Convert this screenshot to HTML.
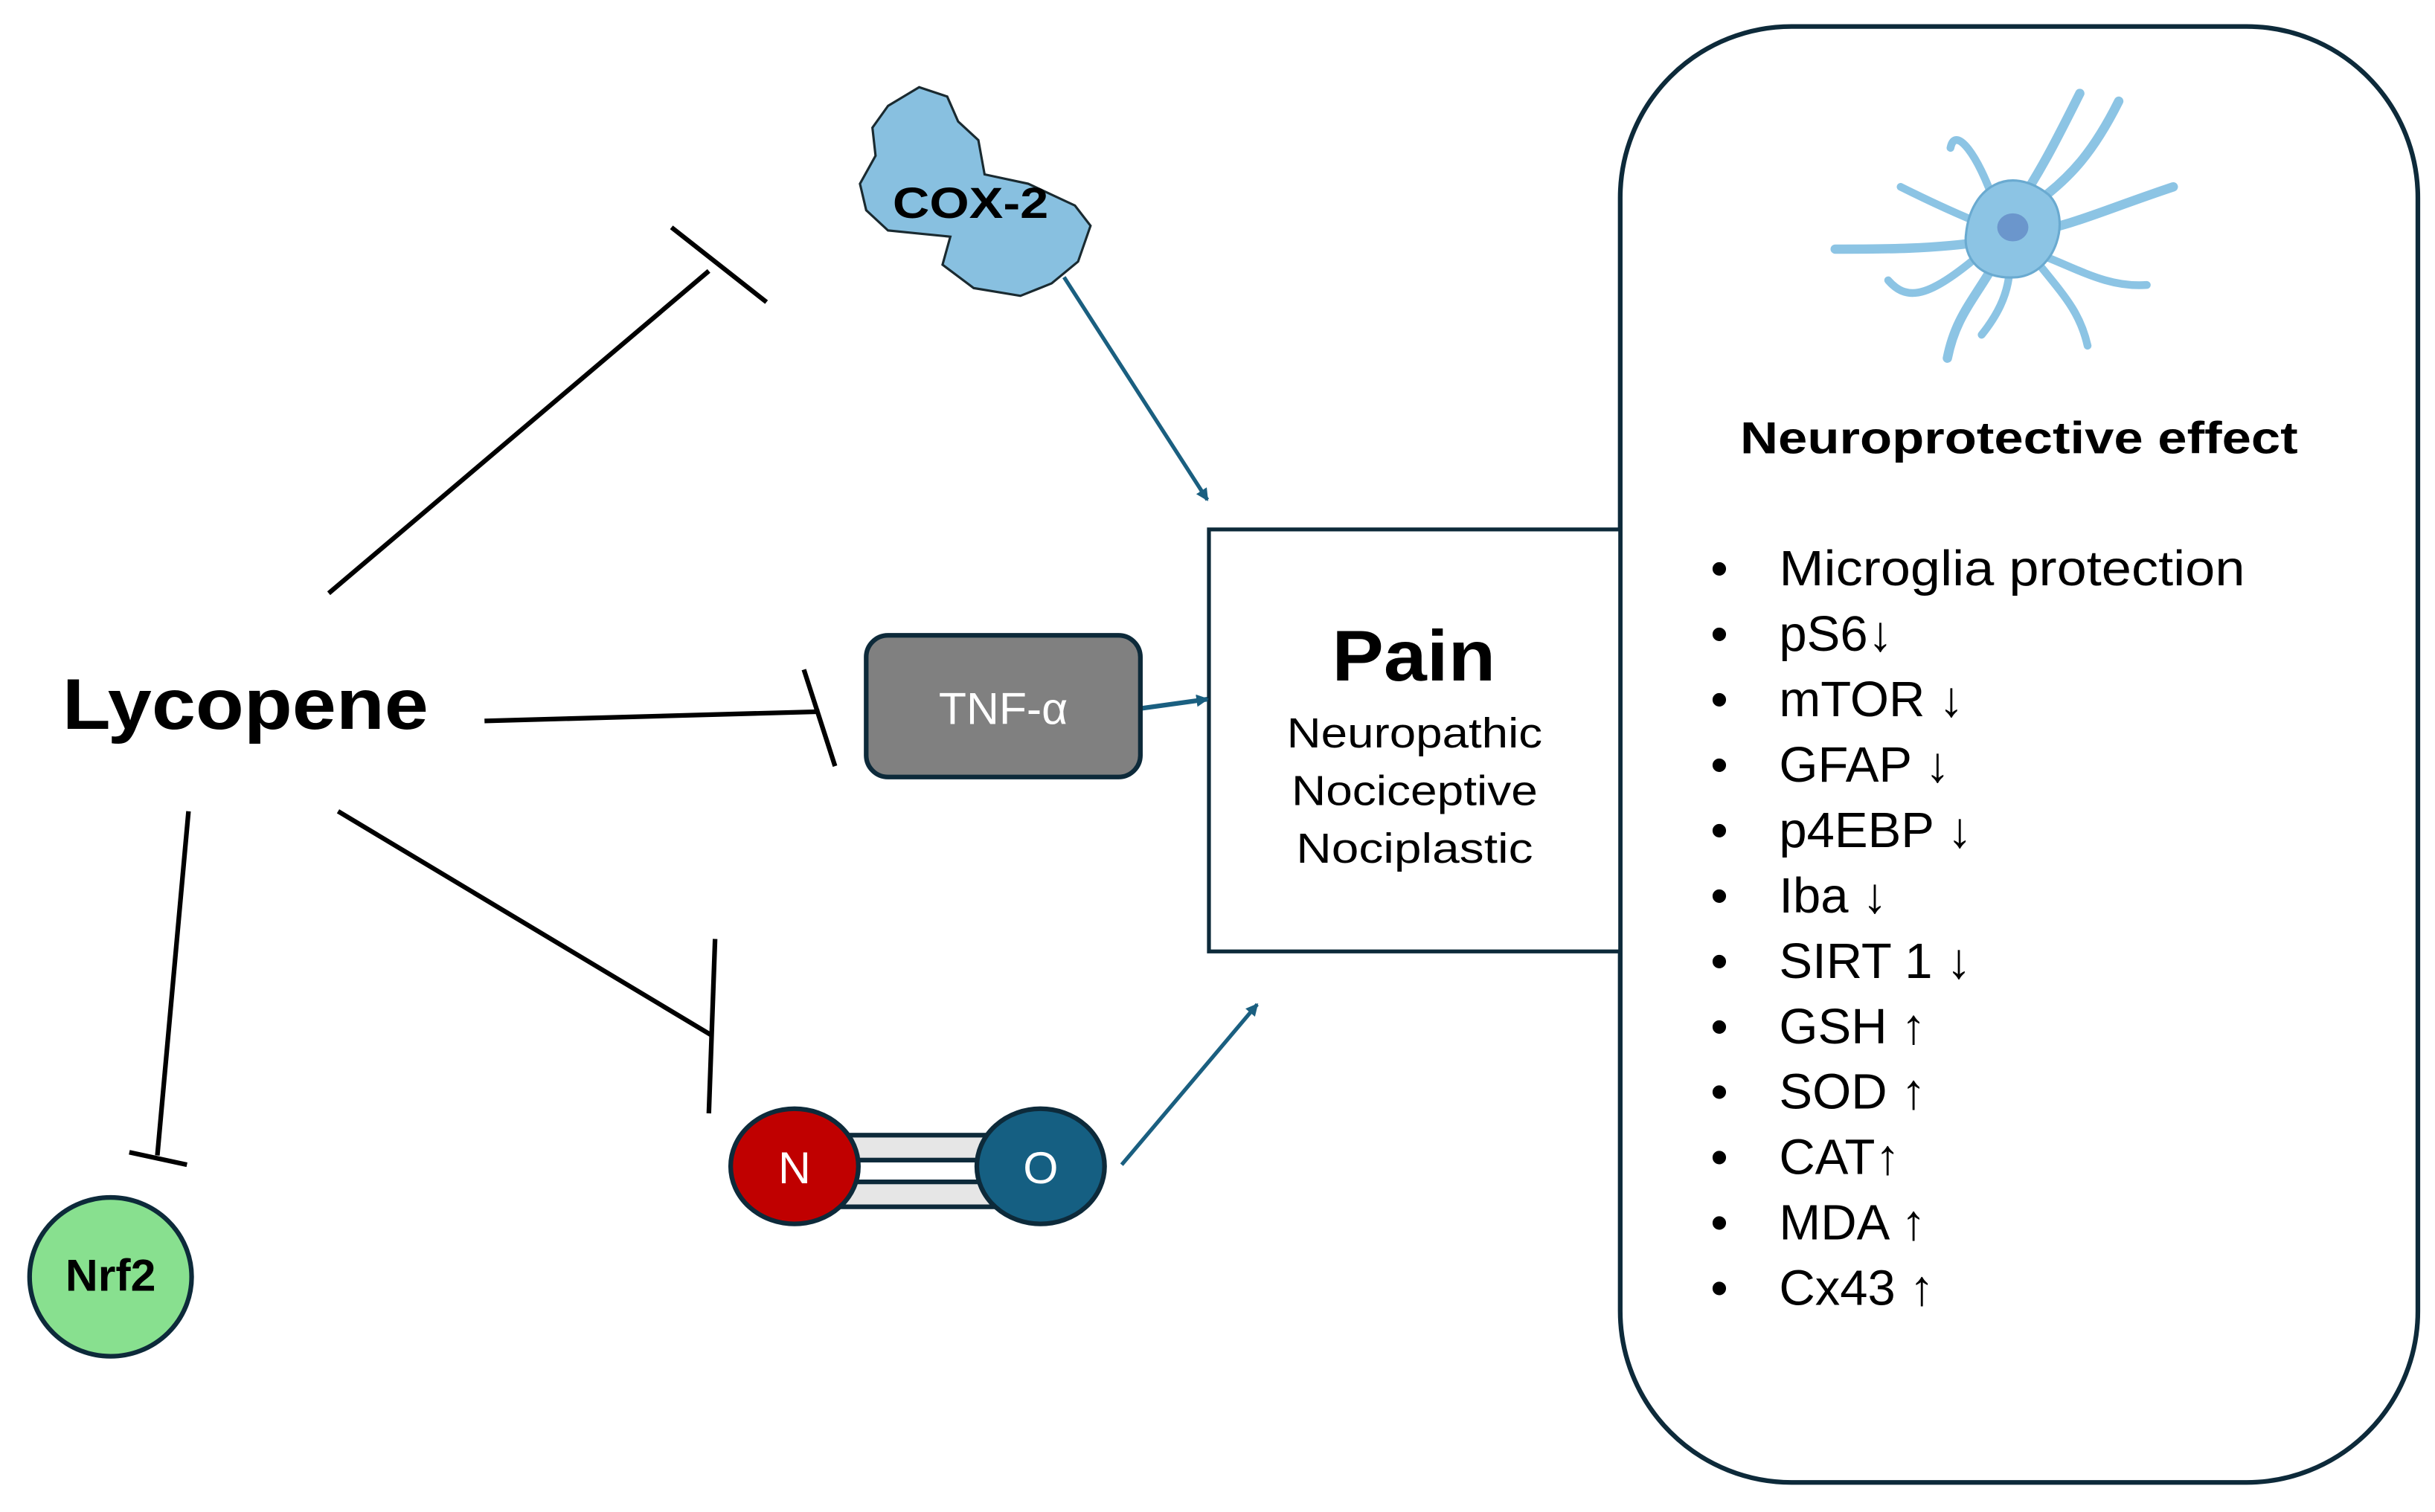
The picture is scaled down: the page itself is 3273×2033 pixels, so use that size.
<!DOCTYPE html>
<html><head><meta charset="utf-8"><style>
html,body{margin:0;padding:0;background:#fff;}
svg{display:block;}
text{font-family:"Liberation Sans",sans-serif;}
</style></head><body>
<svg width="3273" height="2033" viewBox="0 0 1563 971" preserveAspectRatio="none" xmlns="http://www.w3.org/2000/svg">
<defs>
<marker id="ah" markerWidth="8" markerHeight="8" refX="7" refY="4" orient="auto" markerUnits="userSpaceOnUse"><path d="M0,0 L8,4 L0,8 z" fill="#1a5f80"/></marker>
</defs>
<rect width="1563" height="971" fill="#fff"/>
<rect x="1040" y="17" width="512" height="935" rx="110" ry="110" fill="#fff" stroke="#0d2a3a" stroke-width="3"/>
<rect x="776" y="340" width="264" height="271" fill="#fff" stroke="#0d2a3a" stroke-width="2.5"/>
<text x="855" y="437" font-size="46" font-weight="bold" textLength="105" lengthAdjust="spacingAndGlyphs">Pain</text>
<text x="826" y="480" font-size="27" textLength="164" lengthAdjust="spacingAndGlyphs">Neuropathic</text>
<text x="829" y="517" font-size="27" textLength="158" lengthAdjust="spacingAndGlyphs">Nociceptive</text>
<text x="832" y="554" font-size="27" textLength="152" lengthAdjust="spacingAndGlyphs">Nociplastic</text>
<text x="1117" y="291" font-size="29" font-weight="bold" textLength="358" lengthAdjust="spacingAndGlyphs">Neuroprotective effect</text>
<g font-size="32">
<text x="1098" y="376">•</text><text x="1142" y="376" textLength="299" lengthAdjust="spacingAndGlyphs">Microglia protection</text>
<text x="1098" y="418">•</text><text x="1142" y="418">pS6↓</text>
<text x="1098" y="460">•</text><text x="1142" y="460">mTOR ↓</text>
<text x="1098" y="502">•</text><text x="1142" y="502">GFAP ↓</text>
<text x="1098" y="544">•</text><text x="1142" y="544">p4EBP ↓</text>
<text x="1098" y="586">•</text><text x="1142" y="586">Iba ↓</text>
<text x="1098" y="628">•</text><text x="1142" y="628">SIRT 1 ↓</text>
<text x="1098" y="670">•</text><text x="1142" y="670">GSH ↑</text>
<text x="1098" y="712">•</text><text x="1142" y="712">SOD ↑</text>
<text x="1098" y="754">•</text><text x="1142" y="754">CAT↑</text>
<text x="1098" y="796">•</text><text x="1142" y="796">MDA ↑</text>
<text x="1098" y="838">•</text><text x="1142" y="838">Cx43 ↑</text>
</g>
<g stroke="#8cc4e4" stroke-linecap="round" fill="none">
<path d="M1290,140 C1310,110 1320,90 1335,60" stroke-width="6"/>
<path d="M1300,135 C1330,115 1345,95 1360,65" stroke-width="6"/>
<path d="M1280,130 C1270,100 1255,80 1252,95" stroke-width="5"/>
<path d="M1300,150 C1330,145 1350,135 1395,120" stroke-width="6"/>
<path d="M1300,160 C1330,170 1350,185 1378,183" stroke-width="5"/>
<path d="M1275,155 C1240,160 1210,160 1178,160" stroke-width="6"/>
<path d="M1275,145 C1250,135 1230,125 1220,120" stroke-width="5"/>
<path d="M1280,170 C1265,195 1255,205 1250,230" stroke-width="6"/>
<path d="M1290,170 C1290,190 1280,205 1272,215" stroke-width="5"/>
<path d="M1305,165 C1325,190 1335,200 1340,222" stroke-width="5"/>
<path d="M1275,160 C1240,190 1225,195 1212,180" stroke-width="5"/>
</g>
<path d="M1262,150 C1265,120 1290,105 1315,125 C1330,140 1320,175 1295,178 C1270,180 1260,165 1262,150 Z" fill="#8cc4e4" stroke="#6aaad0" stroke-width="1.5"/>
<ellipse cx="1292" cy="146" rx="10" ry="9" fill="#6b96cc"/>
<path d="M570,68 L590,56 L608,62 L615,78 L628,90 L632,112 L660,118 L690,132 L700,145 L692,168 L675,182 L655,190 L625,185 L605,170 L610,152 L590,150 L570,148 L556,135 L552,118 L562,100 L560,82 Z" fill="#88c0e0" stroke="#1a2a30" stroke-width="1.5"/>
<text x="573" y="140" font-size="28" font-weight="bold" textLength="100" lengthAdjust="spacingAndGlyphs">COX-2</text>
<line x1="683" y1="178" x2="775" y2="321" stroke="#1a5f80" stroke-width="2.5" marker-end="url(#ah)"/>
<line x1="732" y1="455" x2="775" y2="449" stroke="#1a5f80" stroke-width="3" marker-end="url(#ah)"/>
<line x1="720" y1="748" x2="807" y2="645" stroke="#1a5f80" stroke-width="2.5" marker-end="url(#ah)"/>
<rect x="556" y="408" width="176" height="91" rx="14" fill="#808080" stroke="#0d2a3a" stroke-width="3"/>
<text x="644" y="465" text-anchor="middle" font-size="29" fill="#fff">TNF-α</text>
<text x="40" y="468" font-size="46" font-weight="bold" textLength="235" lengthAdjust="spacingAndGlyphs">Lycopene</text>
<g stroke="#000" stroke-width="3">
<line x1="211" y1="381" x2="455" y2="174"/><line x1="431" y1="146" x2="492" y2="194"/>
<line x1="311" y1="463" x2="526" y2="457"/><line x1="516" y1="430" x2="536" y2="492"/>
<line x1="217" y1="521" x2="457" y2="665"/><line x1="459" y1="603" x2="455" y2="715"/>
<line x1="121" y1="521" x2="101" y2="742"/><line x1="83" y1="740" x2="120" y2="748"/>
</g>
<rect x="540" y="729" width="100" height="46" fill="#e6e6e6" stroke="#0d2a3a" stroke-width="3"/>
<rect x="540" y="745" width="100" height="14" fill="#fff" stroke="#0d2a3a" stroke-width="3"/>
<ellipse cx="510" cy="749" rx="41" ry="37" fill="#c00000" stroke="#0d2a3a" stroke-width="3"/>
<ellipse cx="668" cy="749" rx="41" ry="37" fill="#155f82" stroke="#0d2a3a" stroke-width="3"/>
<text x="510" y="760" text-anchor="middle" font-size="29" fill="#fff">N</text>
<text x="668" y="760" text-anchor="middle" font-size="29" fill="#fff">O</text>
<ellipse cx="71" cy="820" rx="52" ry="51" fill="#88e08f" stroke="#0d2a3a" stroke-width="3"/>
<text x="71" y="829" text-anchor="middle" font-size="29" font-weight="bold">Nrf2</text>
</svg>
</body></html>
